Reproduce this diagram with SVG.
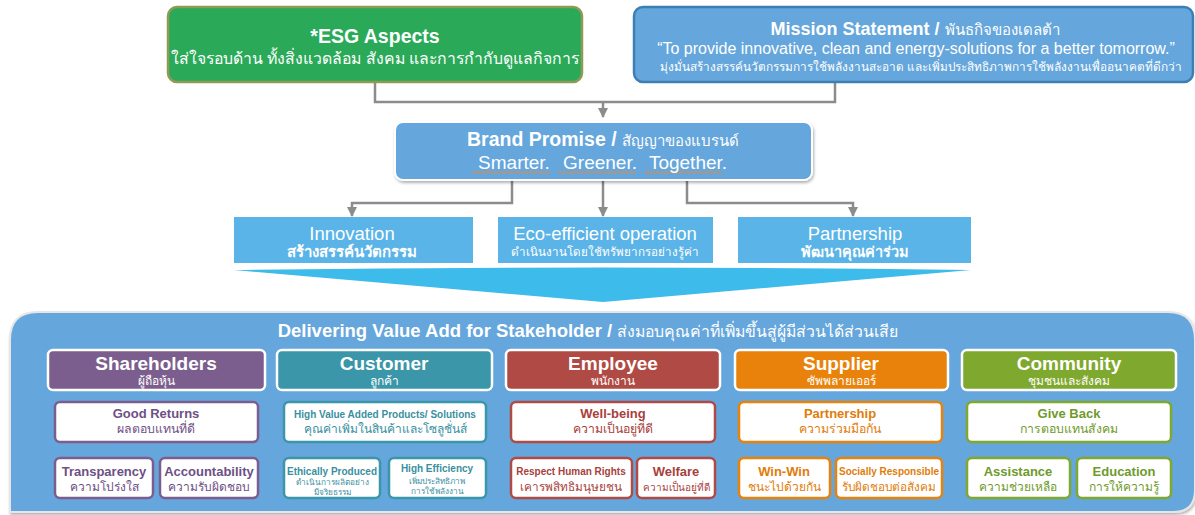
<svg xmlns="http://www.w3.org/2000/svg" width="1195" height="515" viewBox="0 0 1195 515">
<style>
text{font-family:"Liberation Sans","Noto Sans",Arial,sans-serif;text-anchor:middle}
.w{fill:#fff}
.b{font-weight:bold}
.conn{fill:none;stroke:#8c8c8c;stroke-width:2.5}
.pillar{fill:#5bb4e8}
.hdr{stroke:#fff;stroke-width:2.5}
.box{fill:#fff;stroke-width:2.5}
.sh{stroke:#7b5e8e}.shT{fill:#6e4f86}
.cu{stroke:#3a96a8}.cuT{fill:#3a8fa0}
.em{stroke:#b04a44}.emT{fill:#a8413c}
.su{stroke:#e8820a}.suT{fill:#e07c0a}
.co{stroke:#7fa82e}.coT{fill:#6f9a2c}
</style>
<defs>
<marker id="ah" viewBox="0 0 10 10" refX="9" refY="5" markerWidth="4" markerHeight="4" orient="auto"><path d="M0,0 L10,5 L0,10 z" fill="#8c8c8c"/></marker>
<filter id="sd" x="-5%" y="-5%" width="110%" height="120%"><feDropShadow dx="1" dy="2" stdDeviation="1.5" flood-color="#000" flood-opacity="0.3"/></filter>
</defs>
<rect width="1195" height="515" fill="#fff"/>

<g id="connectors">
<path class="conn" d="M375,83 V102 H835 V83"/>
<path class="conn" d="M603,102 V117" marker-end="url(#ah)"/>
<path class="conn" d="M512,172 V203 H352 V216" marker-end="url(#ah)"/>
<path class="conn" d="M603,172 V216" marker-end="url(#ah)"/>
<path class="conn" d="M687,172 V203 H853 V216" marker-end="url(#ah)"/>
</g>

<g id="esg">
<rect x="168" y="7" width="414" height="75" rx="9" fill="#2aaa58" stroke="#8f9a55" stroke-width="2.5"/>
<text x="375" y="43" class="w b" font-size="19.5">*ESG Aspects</text>
<text x="375" y="64" class="w" font-size="15.8">ใส่ใจรอบด้าน ทั้งสิ่งแวดล้อม สังคม และการกำกับดูแลกิจการ</text>
</g>

<g id="mission">
<rect x="634" y="7" width="559" height="75" rx="9" fill="#65a6dc" stroke="#3b7fb5" stroke-width="2.5"/>
<text x="915" y="35" class="w" font-size="18"><tspan class="b">Mission Statement /</tspan> <tspan font-size="15">พันธกิจของเดลต้า</tspan></text>
<text x="916" y="54" class="w" font-size="16">“To provide innovative, clean and energy-solutions for a better tomorrow.”</text>
<text x="921" y="71" class="w" font-size="11.8">มุ่งมั่นสร้างสรรค์นวัตกรรมการใช้พลังงานสะอาด และเพิ่มประสิทธิภาพการใช้พลังงานเพื่ออนาคตที่ดีกว่า</text>
</g>

<g id="brand">
<rect x="395" y="122" width="417" height="58" rx="8" fill="#65a6dc" stroke="#fff" stroke-width="2" filter="url(#sd)"/>
<text x="603" y="146" class="w" font-size="19.5"><tspan class="b">Brand Promise /</tspan> <tspan font-size="15">สัญญาของแบรนด์</tspan></text>
<rect x="472" y="171" width="78" height="3" fill="#9a9a9a"/>
<rect x="558" y="171" width="78" height="3" fill="#9a9a9a"/>
<rect x="644" y="171" width="78" height="3" fill="#9a9a9a"/>
<text x="514" y="169" class="w" font-size="19">Smarter.</text>
<text x="600" y="169" class="w" font-size="19">Greener.</text>
<text x="688" y="169" class="w" font-size="19">Together.</text>
</g>

<g id="innovation">
<rect class="pillar" x="234" y="217" width="239" height="46"/>
<text x="352" y="240" class="w" font-size="18.5">Innovation</text>
<text x="352" y="257" class="w b" font-size="15">สร้างสรรค์นวัตกรรม</text>
</g>
<g id="eco">
<rect class="pillar" x="498" y="217" width="215" height="46"/>
<text x="605" y="240" class="w" font-size="18.5">Eco-efficient operation</text>
<text x="605" y="256" class="w" font-size="11.6">ดำเนินงานโดยใช้ทรัพยากรอย่างรู้ค่า</text>
</g>
<g id="partnership">
<rect class="pillar" x="738" y="217" width="233" height="46"/>
<text x="855" y="240" class="w" font-size="18.5">Partnership</text>
<text x="855" y="257" class="w b" font-size="14.5">พัฒนาคุณค่าร่วม</text>
</g>

<g id="chevron">
<path d="M234,270 Q603,265 971,270 L603,302 Z" fill="#3dbbeb"/>
</g>

<g id="panel">
<path d="M10,512 V340 Q10,312 38,312 H1168 Q1195,312 1195,340 V490 Q1195,512 1173,512 Z" fill="#65a6dc" stroke="#e6e6e6" stroke-width="2" filter="url(#sd)"/>
<text x="588" y="337" class="w" font-size="18.5"><tspan class="b">Delivering Value Add for Stakeholder /</tspan> <tspan font-size="15.8">ส่งมอบคุณค่าที่เพิ่มขึ้นสู่ผู้มีส่วนได้ส่วนเสีย</tspan></text>
</g>

<g id="shareholders">
<rect class="hdr" x="48" y="350" width="217" height="40" rx="5" fill="#7b5e8e"/>
<text x="156" y="370" class="w b" font-size="19">Shareholders</text>
<text x="156" y="385" class="w" font-size="12">ผู้ถือหุ้น</text>
</g>
<g id="customer">
<rect class="hdr" x="277" y="350" width="215" height="40" rx="5" fill="#3a96a8"/>
<text x="384" y="370" class="w b" font-size="19">Customer</text>
<text x="384" y="385" class="w" font-size="12">ลูกค้า</text>
</g>
<g id="employee">
<rect class="hdr" x="506" y="350" width="214" height="40" rx="5" fill="#b04a44"/>
<text x="613" y="370" class="w b" font-size="19">Employee</text>
<text x="613" y="385" class="w" font-size="12">พนักงาน</text>
</g>
<g id="supplier">
<rect class="hdr" x="735" y="350" width="213" height="40" rx="5" fill="#e8820a"/>
<text x="841" y="370" class="w b" font-size="19">Supplier</text>
<text x="841" y="385" class="w" font-size="12">ซัพพลายเออร์</text>
</g>
<g id="community">
<rect class="hdr" x="962" y="350" width="214" height="40" rx="5" fill="#7fa82e"/>
<text x="1069" y="370" class="w b" font-size="19">Community</text>
<text x="1069" y="385" class="w" font-size="12">ชุมชนและสังคม</text>
</g>

<g id="good-returns">
<rect class="box sh" x="55" y="402" width="203" height="40" rx="5"/>
<text x="156" y="418" class="shT b" font-size="13">Good Returns</text>
<text x="156" y="433" class="shT" font-size="12.3">ผลตอบแทนที่ดี</text>
</g>
<g id="transparency">
<rect class="box sh" x="55" y="458" width="98" height="40" rx="5"/>
<text x="104" y="476" class="shT b" font-size="13">Transparency</text>
<text x="104" y="491" class="shT" font-size="12">ความโปร่งใส</text>
</g>
<g id="accountability">
<rect class="box sh" x="160" y="458" width="98" height="40" rx="5"/>
<text x="209" y="476" class="shT b" font-size="13">Accountability</text>
<text x="209" y="491" class="shT" font-size="12">ความรับผิดชอบ</text>
</g>

<g id="high-value">
<rect class="box cu" x="284" y="402" width="202" height="40" rx="5"/>
<text x="385" y="418" class="cuT b" font-size="10">High Value Added Products/ Solutions</text>
<text x="385" y="433" class="cuT" font-size="12">คุณค่าเพิ่มในสินค้าและโซลูชั่นส์</text>
</g>
<g id="ethically">
<rect class="box cu" x="284" y="458" width="96" height="40" rx="5"/>
<text x="332" y="475" class="cuT b" font-size="10">Ethically Produced</text>
<text x="332" y="485" class="cuT" font-size="8.2">ดำเนินการผลิตอย่าง</text>
<text x="332" y="495" class="cuT" font-size="8.2">มีจริยธรรม</text>
</g>
<g id="high-efficiency">
<rect class="box cu" x="389" y="458" width="97" height="40" rx="5"/>
<text x="437" y="472" class="cuT b" font-size="10">High Efficiency</text>
<text x="437" y="484" class="cuT" font-size="8.2">เพิ่มประสิทธิภาพ</text>
<text x="437" y="494" class="cuT" font-size="8.2">การใช้พลังงาน</text>
</g>

<g id="well-being">
<rect class="box em" x="511" y="402" width="204" height="40" rx="5"/>
<text x="613" y="418" class="emT b" font-size="13">Well-being</text>
<text x="613" y="433" class="emT" font-size="12.3">ความเป็นอยู่ที่ดี</text>
</g>
<g id="respect">
<rect class="box em" x="511" y="458" width="121" height="40" rx="5"/>
<text x="571" y="475" class="emT b" font-size="10">Respect Human Rights</text>
<text x="571" y="491" class="emT" font-size="11.8">เคารพสิทธิมนุษยชน</text>
</g>
<g id="welfare">
<rect class="box em" x="637" y="458" width="78" height="40" rx="5"/>
<text x="676" y="476" class="emT b" font-size="13">Welfare</text>
<text x="676" y="491" class="emT" font-size="10">ความเป็นอยู่ที่ดี</text>
</g>

<g id="partnership-s">
<rect class="box su" x="739" y="402" width="203" height="40" rx="5"/>
<text x="840" y="418" class="suT b" font-size="13">Partnership</text>
<text x="840" y="433" class="suT" font-size="12.3">ความร่วมมือกัน</text>
</g>
<g id="win-win">
<rect class="box su" x="739" y="458" width="91" height="40" rx="5"/>
<text x="784" y="476" class="suT b" font-size="13">Win-Win</text>
<text x="784" y="491" class="suT" font-size="12">ชนะไปด้วยกัน</text>
</g>
<g id="socially">
<rect class="box su" x="836" y="458" width="106" height="40" rx="5"/>
<text x="889" y="475" class="suT b" font-size="10">Socially Responsible</text>
<text x="889" y="491" class="suT" font-size="11.8">รับผิดชอบต่อสังคม</text>
</g>

<g id="give-back">
<rect class="box co" x="967" y="402" width="204" height="40" rx="5"/>
<text x="1069" y="418" class="coT b" font-size="13">Give Back</text>
<text x="1069" y="433" class="coT" font-size="12.3">การตอบแทนสังคม</text>
</g>
<g id="assistance">
<rect class="box co" x="967" y="458" width="103" height="40" rx="5"/>
<text x="1018" y="476" class="coT b" font-size="13">Assistance</text>
<text x="1018" y="491" class="coT" font-size="12">ความช่วยเหลือ</text>
</g>
<g id="education">
<rect class="box co" x="1077" y="458" width="94" height="40" rx="5"/>
<text x="1124" y="476" class="coT b" font-size="13">Education</text>
<text x="1124" y="491" class="coT" font-size="12">การให้ความรู้</text>
</g>
</svg>
